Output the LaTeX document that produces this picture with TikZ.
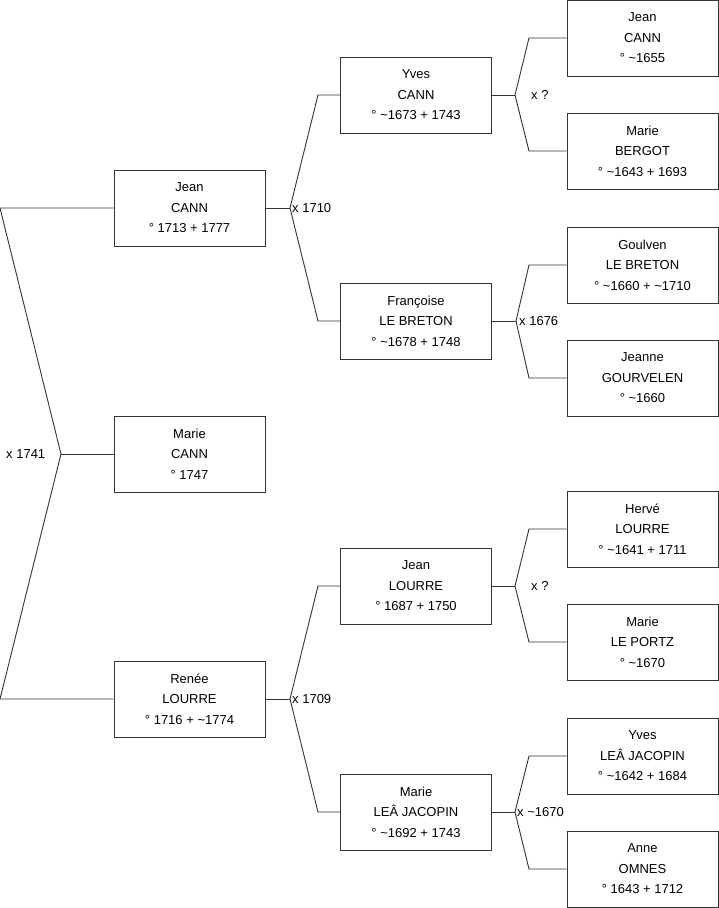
\documentclass[tikz,border=0pt]{standalone}
\usepackage{fontspec}
\setmainfont{Liberation Sans}
\begin{document}
\begin{tikzpicture}[x=1pt,y=-1pt,
  person/.style={draw=black!80,line width=0.9pt,fill=white,minimum width=151pt,minimum height=76pt,
    align=center,inner sep=0pt,font=\fontsize{13}{20.5}\selectfont},
  link/.style={draw=black!80,line width=0.9pt},
  marr/.style={anchor=west,inner sep=0pt,font=\fontsize{13}{14}\selectfont}]
\useasboundingbox (0,0) rectangle (719,908);
% generation 1
\node[person] (p1) at (189.5,208) {Jean\\CANN\\° 1713 + 1777};
\node[person] (p2) at (189.5,454) {Marie\\CANN\\° 1747};
\node[person] (p3) at (189.5,699) {Renée\\LOURRE\\° 1716 + \textasciitilde1774};
% generation 2
\node[person] (q1) at (416,95) {Yves\\CANN\\° \textasciitilde1673 + 1743};
\node[person] (q2) at (416,321) {Françoise\\LE BRETON\\° \textasciitilde1678 + 1748};
\node[person] (q3) at (416,586) {Jean\\LOURRE\\° 1687 + 1750};
\node[person] (q4) at (416,812) {Marie\\LEÂ JACOPIN\\° \textasciitilde1692 + 1743};
% generation 3
\node[person] (r1) at (642.5,38) {Jean\\CANN\\° \textasciitilde1655};
\node[person] (r2) at (642.5,151) {Marie\\BERGOT\\° \textasciitilde1643 + 1693};
\node[person] (r3) at (642.5,265) {Goulven\\LE BRETON\\° \textasciitilde1660 + \textasciitilde1710};
\node[person] (r4) at (642.5,378) {Jeanne\\GOURVELEN\\° \textasciitilde1660};
\node[person] (r5) at (642.5,529) {Hervé\\LOURRE\\° \textasciitilde1641 + 1711};
\node[person] (r6) at (642.5,642) {Marie\\LE PORTZ\\° \textasciitilde1670};
\node[person] (r7) at (642.5,756) {Yves\\LEÂ JACOPIN\\° \textasciitilde1642 + 1684};
\node[person] (r8) at (642.5,869) {Anne\\OMNES\\° 1643 + 1712};
% root couple
\coordinate (j0) at (61,454);
\coordinate (a0) at (0,208);
\coordinate (b0) at (0,699);
\draw[link] (p1.west) -- (a0) -- (j0) -- (b0) -- (p3.west);
\draw[link] (j0) -- (p2.west);
\node[marr] (m0) at (6,454) {x 1741};
% Jean CANN parents
\coordinate (j1) at (290,208);
\coordinate (a1) at (318,95);
\coordinate (b1) at (318,321);
\draw[link] (p1.east) -- (j1);
\draw[link] (q1.west) -- (a1) -- (j1) -- (b1) -- (q2.west);
\node[marr] (m1) at (292,208) {x 1710};
% Renée parents
\coordinate (j2) at (290,699);
\coordinate (a2) at (318,586);
\coordinate (b2) at (318,812);
\draw[link] (p3.east) -- (j2);
\draw[link] (q3.west) -- (a2) -- (j2) -- (b2) -- (q4.west);
\node[marr] (m2) at (292,699) {x 1709};
% Yves CANN parents
\coordinate (j3) at (515,95);
\coordinate (a3) at (529,38);
\coordinate (b3) at (529,151);
\draw[link] (q1.east) -- (j3);
\draw[link] (r1.west) -- (a3) -- (j3) -- (b3) -- (r2.west);
\node[marr] (m3) at (531,95) {x ?};
% Françoise parents
\coordinate (j4) at (516,321);
\coordinate (a4) at (529,265);
\coordinate (b4) at (529,378);
\draw[link] (q2.east) -- (j4);
\draw[link] (r3.west) -- (a4) -- (j4) -- (b4) -- (r4.west);
\node[marr] (m4) at (519,321) {x 1676};
% Jean LOURRE parents
\coordinate (j5) at (515,586);
\coordinate (a5) at (529,529);
\coordinate (b5) at (529,642);
\draw[link] (q3.east) -- (j5);
\draw[link] (r5.west) -- (a5) -- (j5) -- (b5) -- (r6.west);
\node[marr] (m5) at (531,586) {x ?};
% Marie LEÂ JACOPIN parents
\coordinate (j6) at (515,812);
\coordinate (a6) at (529,756);
\coordinate (b6) at (529,869);
\draw[link] (q4.east) -- (j6);
\draw[link] (r7.west) -- (a6) -- (j6) -- (b6) -- (r8.west);
\node[marr] (m6) at (517,812) {x \textasciitilde1670};
\end{tikzpicture}
\end{document}
